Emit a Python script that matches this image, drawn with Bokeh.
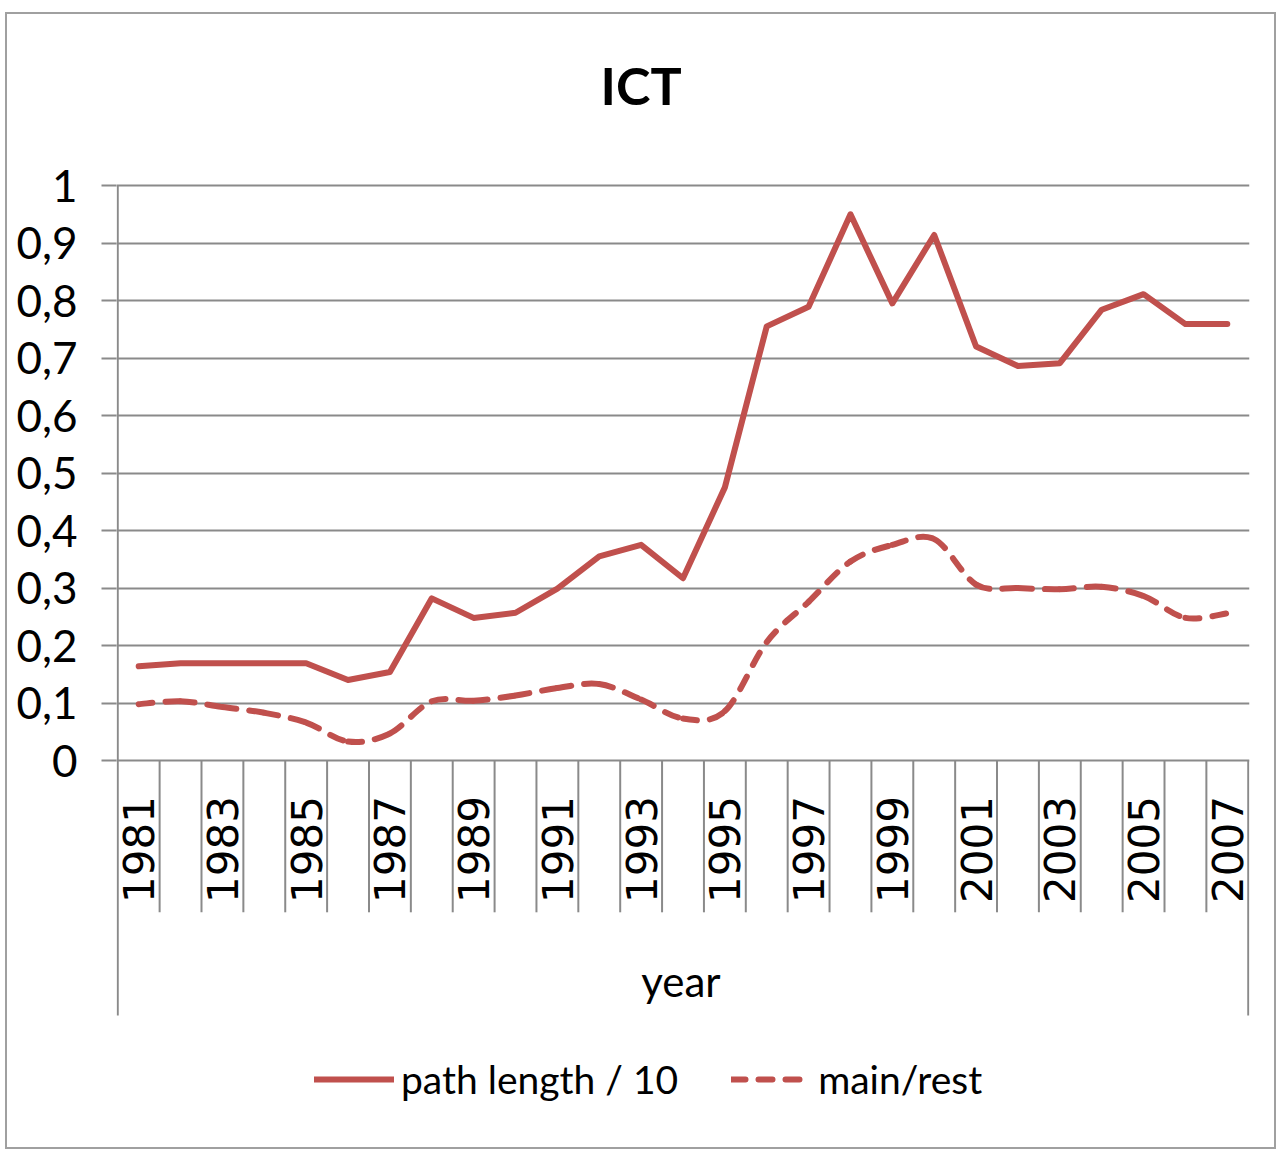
import math
from bokeh.plotting import figure
from bokeh.models import (FixedTicker, CustomJSTickFormatter, Legend, LegendItem,
                          ColumnDataSource, Range1d)
from bokeh.core.properties import value
from bokeh.embed import file_html
from bokeh.resources import INLINE

# ---------------- data ----------------
years = [1981, 1982, 1983, 1984, 1985, 1986, 1987, 1988, 1989, 1990,
         1991, 1992, 1993, 1994, 1995, 1996, 1997, 1998, 1999, 2000,
         2001, 2002, 2003, 2004, 2005, 2006, 2007]
path_length = [0.164, 0.169, 0.169, 0.169, 0.169, 0.140, 0.154, 0.282, 0.248, 0.257,
               0.299, 0.355, 0.375, 0.317, 0.475, 0.755, 0.789, 0.950, 0.795, 0.914,
               0.720, 0.686, 0.691, 0.784, 0.811, 0.759, 0.759]
main_rest = [0.098, 0.103, 0.093, 0.083, 0.066, 0.033, 0.047, 0.103, 0.104, 0.113,
             0.126, 0.133, 0.106, 0.073, 0.086, 0.206, 0.276, 0.346, 0.375, 0.385,
             0.306, 0.300, 0.298, 0.302, 0.286, 0.248, 0.256]
year_label_years = [1981, 1983, 1985, 1987, 1989, 1991, 1993, 1995, 1997, 1999,
                    2001, 2003, 2005, 2007]
year_tick_labels = ["1981", "1983", "1985", "1987", "1989", "1991", "1993", "1995",
                    "1997", "1999", "2001", "2003", "2005", "2007"]
y_ticks = [0.0, 0.1, 0.2, 0.3, 0.4, 0.5, 0.6, 0.7, 0.8, 0.9, 1.0]
series_names = ["path length / 10", "main/rest"]
title_text = "ICT"
x_label = "year"

# ---------------- style ----------------
RED = "#C0504D"
GRID = "#8a8a8a"
FONT = "Lato"
Y_TOP = 1.2974           # frame reaches the top of the chart box (title lives here)
Y_LOW = -0.680           # room under the zero line for the category axis + legend
BOX_LOW = -0.4435        # bottom of the outer category-axis lines
SEP_LOW = -0.264         # bottom of the category separators
LABEL_TOP = -0.062       # top of the rotated year labels
XLABEL_Y = -0.383
TITLE_X = 1993.0
TITLE_Y = 1.1755

p = figure(width=1271, height=1137,
           x_range=Range1d(years[0] - 0.53, years[-1] + 0.53),
           y_range=Range1d(Y_LOW, Y_TOP),
           output_backend="svg", toolbar_location=None,
           min_border_left=109, min_border_right=29,
           min_border_top=0, min_border_bottom=0)
p.styles = {"border": "2px solid #a0a0a0", "box-sizing": "border-box",
            "margin-left": "5px", "margin-top": "12px"}
p.outline_line_color = None
p.background_fill_color = "white"
p.border_fill_color = "white"

# axes / grid
p.xaxis.visible = False
p.xgrid.visible = False
p.ygrid.ticker = FixedTicker(ticks=y_ticks)
p.ygrid.grid_line_color = GRID
p.ygrid.grid_line_width = 2

yax = p.yaxis[0]
yax.ticker = FixedTicker(ticks=y_ticks, minor_ticks=[])
yax.formatter = CustomJSTickFormatter(
    code="return (Math.round(tick*10)/10).toString().replace('.', ',');")
yax.axis_line_color = None
yax.major_tick_line_color = GRID
yax.major_tick_line_width = 2
yax.major_tick_out = 15
yax.major_tick_in = 0
yax.minor_tick_out = 0
yax.minor_tick_in = 0
yax.major_label_standoff = 24
yax.major_label_text_font = FONT
yax.major_label_text_font_size = "44px"
yax.major_label_text_color = "black"

# chart title
p.text(x=[TITLE_X], y=[TITLE_Y], text=[title_text], text_align="center",
       text_baseline="alphabetic", text_font=value(FONT), text_font_style="bold",
       text_font_size="52px", text_color="black")

# vertical axis line (stops at the bottom of the category box)
left_src = ColumnDataSource(dict(x=[years[0] - 0.5], y0=[1.0], y1=[BOX_LOW]))
p.segment(x0="x", y0="y0", x1="x", y1="y1", source=left_src,
          line_color=GRID, line_width=2)

# category separators under the zero line
sep_x = [y + 0.5 for y in years[:-1]]
sep_src = ColumnDataSource(dict(x=sep_x, y0=[0.0] * len(sep_x), y1=[SEP_LOW] * len(sep_x)))
p.segment(x0="x", y0="y0", x1="x", y1="y1", source=sep_src,
          line_color=GRID, line_width=2)
end_src = ColumnDataSource(dict(x=[years[-1] + 0.5], y0=[0.0], y1=[BOX_LOW]))
p.segment(x0="x", y0="y0", x1="x", y1="y1", source=end_src,
          line_color=GRID, line_width=2)

# rotated year labels
p.text(x=year_label_years, y=[LABEL_TOP] * len(year_label_years), text=year_tick_labels,
       angle=math.pi / 2, text_align="right", text_baseline="middle",
       text_font=value("DejaVu Sans"), text_font_size="42px", text_color="black")

# axis group label
p.text(x=[(years[0] + years[-1]) / 2 - 0.05], y=[XLABEL_Y], text=[x_label],
       text_align="center", text_baseline="middle",
       text_font=value(FONT), text_font_size="42px", text_color="black")

# solid series
solid = p.line(years, path_length, line_color=RED, line_width=6,
               line_join="round", line_cap="round")

# smoothed dashed series (Catmull-Rom control points from the data)
n = len(years)
def pt(i):
    i = max(0, min(n - 1, i))
    return years[i], main_rest[i]
bx0, by0, bx1, by1, cx0, cy0, cx1, cy1 = [], [], [], [], [], [], [], []
for i in range(n - 1):
    xa, ya = pt(i - 1)
    xb, yb = pt(i)
    xc, yc = pt(i + 1)
    xd, yd = pt(i + 2)
    bx0.append(xb); by0.append(yb); bx1.append(xc); by1.append(yc)
    cx0.append(xb + (xc - xa) / 6.0); cy0.append(yb + (yc - ya) / 6.0)
    cx1.append(xc - (xd - xb) / 6.0); cy1.append(yc - (yd - yb) / 6.0)
bz_src = ColumnDataSource(dict(x0=bx0, y0=by0, x1=bx1, y1=by1,
                               cx0=cx0, cy0=cy0, cx1=cx1, cy1=cy1))
dashed = p.bezier(x0="x0", y0="y0", x1="x1", y1="y1", cx0="cx0", cy0="cy0",
                  cx1="cx1", cy1="cy1", source=bz_src, line_color=RED,
                  line_width=6, line_dash="14 13", line_cap="round")

legend = Legend(items=[LegendItem(label=series_names[0], renderers=[solid]),
                       LegendItem(label=series_names[1], renderers=[dashed])],
                orientation="horizontal", location=(198, 49),
                glyph_width=80, glyph_height=40, label_standoff=7, spacing=53,
                label_text_font=FONT, label_text_font_size="39px",
                label_text_color="black", label_height=40,
                border_line_color=None, background_fill_alpha=0,
                padding=5, margin=0)
p.add_layout(legend)

open("out.html", "w").write(file_html(p, INLINE))
